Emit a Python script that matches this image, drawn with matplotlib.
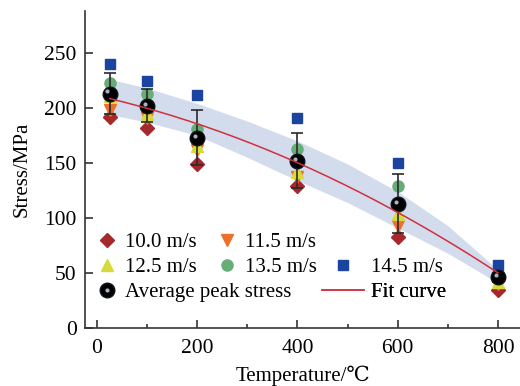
import matplotlib
matplotlib.use('Agg')
import matplotlib.pyplot as plt
import matplotlib.transforms as mtransforms
from matplotlib.legend_handler import HandlerTuple
import numpy as np

# peak stress readings (MPa) per impact speed
temps = [25, 100, 200, 400, 600, 800]
stress_100 = [192, 182, 149, 129, 83, 35]
stress_115 = [198, 191, 162, 137, 93, 40]
stress_125 = [211, 194, 165, 142, 104, 42]
stress_135 = [223, 213, 181, 163, 129, 50]
stress_145 = [240, 224, 212, 191, 150, 57]
avg_stress = [213, 202, 173, 152, 113, 46]
avg_err = [19, 15, 25, 25, 27, 4]

# shaded band round the fit curve
band_temps = [25, 100, 200, 300, 400, 500, 600, 700, 800]
band_upper = [226, 218, 204, 188, 170, 149, 124, 93, 53]
band_lower = [194, 187, 175, 155, 134, 114, 91, 68, 41]

plt.rcParams['font.family'] = ['Liberation Serif', 'DejaVu Serif', 'Noto Sans CJK SC']
plt.rcParams['font.size'] = 15

fig = plt.figure(figsize=(5.2, 3.86), dpi=100)
ax = fig.add_axes([0.1635, 0.150, 0.8365, 0.8215])

ax.fill_between(band_temps, band_lower, band_upper, color='#d2dcec', lw=0, zorder=1)

h100, = ax.plot(temps, stress_100, 'D', ms=7, color='#a5282c', zorder=3)
h115, = ax.plot(temps, stress_115, 'v', ms=8.5, color='#ef6f2c', zorder=3)
h125, = ax.plot(temps, stress_125, '^', ms=8.5, color='#d6da3a', zorder=3)
h135, = ax.plot(temps, stress_135, 'o', ms=8, color='#68ad78', zorder=3)
h145, = ax.plot(temps, stress_145, 's', ms=7.3, color='#1b43a0', zorder=3)

ax.errorbar(temps, avg_stress, yerr=avg_err, fmt='none', ecolor='#2a2a2a',
            elinewidth=1.2, capsize=4.5, capthick=1.2, zorder=4)

havg, = ax.plot(temps, avg_stress, 'o', ms=10.5, mfc='black', mec='#10141c', zorder=5)
shift = mtransforms.offset_copy(ax.transData, fig=fig, x=-1.5, y=1.5, units='points')
hhl, = ax.plot(temps, avg_stress, 'o', ms=3, color='#a9b2c0', mec='none',
               transform=shift, zorder=6)

coef = np.polyfit(temps, avg_stress, 2)
fit_x = np.linspace(temps[0], temps[-1], 200)
hfit, = ax.plot(fit_x, np.polyval(coef, fit_x), color='#d42f3e', lw=1.1, zorder=7)

ax.set_xlim(-24, 844)
ax.set_ylim(0, 288)
ax.set_xticks([0, 200, 400, 600, 800])
ax.set_xticks([100, 300, 500, 700], minor=True)
ax.set_yticks([0, 50, 100, 150, 200, 250])
for s in ['top', 'right']:
    ax.spines[s].set_visible(False)
for s in ['left', 'bottom']:
    ax.spines[s].set_linewidth(1.2)
    ax.spines[s].set_color('#333333')
ax.tick_params(which='major', direction='in', length=6, width=1.2, color='#333333',
               labelsize=15.5, pad=8)
ax.tick_params(which='minor', direction='in', length=3, width=1.2, color='#333333')
ax.tick_params(axis='y', pad=6)
ax.set_xlabel('Temperature/℃', labelpad=5)
ax.set_ylabel('Stress/MPa', labelpad=9)

# legend entries laid out one by one (irregular grid in the original)
entries = [
    (h100, '10.0 m/s', 0.0276, 0.271, 1.0),
    (h115, '11.5 m/s', 0.3035, 0.271, 1.0),
    (h125, '12.5 m/s', 0.0276, 0.192, 1.0),
    (h135, '13.5 m/s', 0.3035, 0.192, 1.0),
    (h145, '14.5 m/s', 0.545, 0.192, 2.0),
    ((havg, hhl), 'Average peak stress', 0.0276, 0.1136, 1.0),
    (hfit, 'Fit curve', 0.545, 0.1136, 2.0),
]
for handle, text, lx, ly, hl in entries:
    leg = ax.legend([handle], [text], loc='center left', bbox_to_anchor=(lx, ly),
                    frameon=False, borderpad=0, borderaxespad=0, handlelength=hl,
                    handletextpad=0.35, fontsize=15,
                    handler_map={tuple: HandlerTuple(ndivide=1, pad=0)})
    ax.add_artist(leg)

fig.savefig('out.png', dpi=100)
